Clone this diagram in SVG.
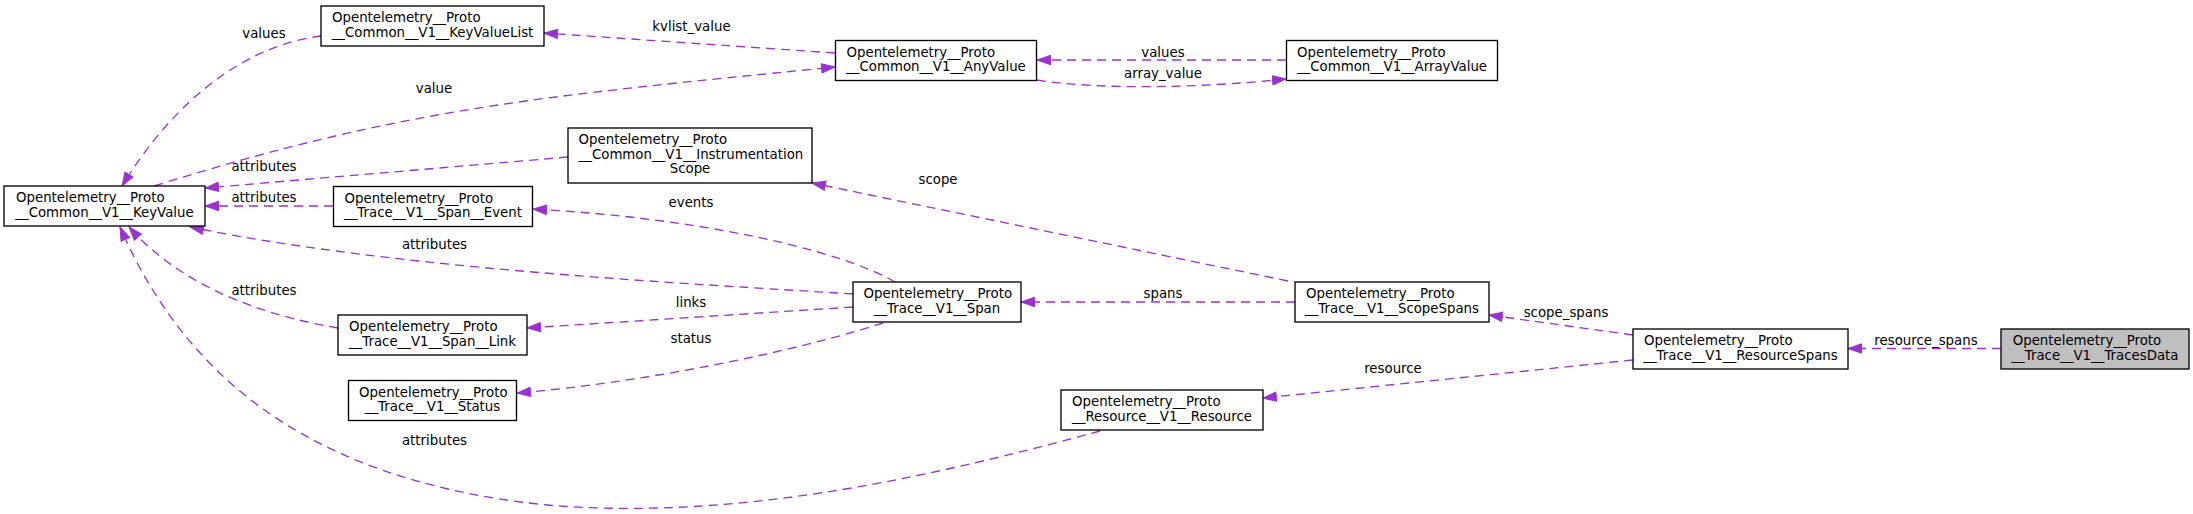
<svg xmlns="http://www.w3.org/2000/svg" width="2193" height="514" viewBox="0 0 2193 514">
<style>
  .node rect { fill: #ffffff; stroke: #000000; stroke-width: 1.33; }
  .node.root rect { fill: #bfbfbf; }
  text { font-family: "DejaVu Sans", "Liberation Sans", sans-serif; font-size: 13.33px; fill: #000000; }
  .c { text-anchor: middle; }
  .edge { fill: none; stroke: #9a32cd; stroke-width: 1.33; stroke-dasharray: 9,6; marker-end: url(#arr); }
</style>
<defs>
  <marker id="arr" markerUnits="userSpaceOnUse" markerWidth="16" markerHeight="12" refX="14" refY="6" orient="auto" viewBox="0 0 16 12">
    <path d="M0.5,1.3 L14,6 L0.5,10.7 Z" fill="#9a32cd" stroke="#9a32cd" stroke-width="1" stroke-dasharray="none"/>
  </marker>
</defs>
<rect width="2193" height="514" fill="#ffffff"/>

<g id="connectors">
  <path class="edge" d="M2001,348.5 L1848,348.5"/>
  <path class="edge" d="M1633,335 L1489,315"/>
  <path class="edge" d="M1633,360 L1263,398"/>
  <path class="edge" d="M1295,302 L1021,302"/>
  <path class="edge" d="M1288,281 L812,183"/>
  <path class="edge" d="M895,282 C840,250 700,218 533,209"/>
  <path class="edge" d="M853,294 C700,284 400,270 190,227"/>
  <path class="edge" d="M853,307 L527,328"/>
  <path class="edge" d="M883,323 C800,350 650,382 517,393"/>
  <path class="edge" d="M1100,431 C950,471.5 747,522 547,505 C297,480 180,365 120,227"/>
  <path class="edge" d="M338,328 C260,315 180,285 129,227"/>
  <path class="edge" d="M568,157 L205,188"/>
  <path class="edge" d="M333,206 L205,206"/>
  <path class="edge" d="M835,53 L544,33"/>
  <path class="edge" d="M154,186 C404,108 535,97 835,67"/>
  <path class="edge" d="M321,36 C270,42 190,75 122,186"/>
  <path class="edge" d="M1037,80 C1100,90 1200,88 1286,79"/>
  <path class="edge" d="M1286,60 L1037,60"/>

  <text class="c" x="1926" y="345">resource_spans</text>
  <text class="c" x="1566" y="317">scope_spans</text>
  <text class="c" x="1393" y="372.5">resource</text>
  <text class="c" x="1163" y="298">spans</text>
  <text class="c" x="938" y="183.5">scope</text>
  <text class="c" x="691" y="206.5">events</text>
  <text class="c" x="434.5" y="249">attributes</text>
  <text class="c" x="691" y="306.5">links</text>
  <text class="c" x="691" y="343">status</text>
  <text class="c" x="434.5" y="445">attributes</text>
  <text class="c" x="264" y="295">attributes</text>
  <text class="c" x="264" y="170.7">attributes</text>
  <text class="c" x="264" y="201.7">attributes</text>
  <text class="c" x="691.5" y="30.5">kvlist_value</text>
  <text class="c" x="434" y="93.3">value</text>
  <text class="c" x="264" y="37.7">values</text>
  <text class="c" x="1163" y="77.7">array_value</text>
  <text class="c" x="1163" y="57.3">values</text>
</g>

<g id="node-KeyValue" class="node">
  <rect x="4" y="186" width="201" height="40"/>
  <text x="16" y="202.3">Opentelemetry__Proto</text>
  <text class="c" x="104.5" y="216.8">__Common__V1__KeyValue</text>
</g>
<g id="node-KeyValueList" class="node">
  <rect x="321" y="6" width="223" height="40"/>
  <text x="332" y="22.3">Opentelemetry__Proto</text>
  <text class="c" x="432.5" y="36.8">__Common__V1__KeyValueList</text>
</g>
<g id="node-SpanEvent" class="node">
  <rect x="333.5" y="186.5" width="199" height="40"/>
  <text x="344.5" y="202.8">Opentelemetry__Proto</text>
  <text class="c" x="433" y="217.3">__Trace__V1__Span__Event</text>
</g>
<g id="node-SpanLink" class="node">
  <rect x="338" y="315" width="189" height="40"/>
  <text x="349" y="331.3">Opentelemetry__Proto</text>
  <text class="c" x="432.5" y="345.8">__Trace__V1__Span__Link</text>
</g>
<g id="node-Status" class="node">
  <rect x="348.5" y="380.5" width="168" height="40"/>
  <text x="359" y="396.8">Opentelemetry__Proto</text>
  <text class="c" x="432.5" y="411.3">__Trace__V1__Status</text>
</g>
<g id="node-InstrumentationScope" class="node">
  <rect x="568" y="128" width="244" height="55"/>
  <text x="578.6" y="144.3">Opentelemetry__Proto</text>
  <text x="578.6" y="158.8">__Common__V1__Instrumentation</text>
  <text class="c" x="690" y="173.3">Scope</text>
</g>
<g id="node-AnyValue" class="node">
  <rect x="835.5" y="40.5" width="201" height="40"/>
  <text x="846.5" y="56.8">Opentelemetry__Proto</text>
  <text class="c" x="936" y="71.3">__Common__V1__AnyValue</text>
</g>
<g id="node-Span" class="node">
  <rect x="853" y="282" width="168" height="40"/>
  <text x="863.5" y="298.3">Opentelemetry__Proto</text>
  <text class="c" x="937" y="312.8">__Trace__V1__Span</text>
</g>
<g id="node-Resource" class="node">
  <rect x="1061" y="390" width="202" height="40"/>
  <text x="1072" y="406.3">Opentelemetry__Proto</text>
  <text class="c" x="1162" y="420.8">__Resource__V1__Resource</text>
</g>
<g id="node-ArrayValue" class="node">
  <rect x="1286.5" y="40.5" width="211" height="40"/>
  <text x="1297" y="56.8">Opentelemetry__Proto</text>
  <text class="c" x="1392" y="71.3">__Common__V1__ArrayValue</text>
</g>
<g id="node-ScopeSpans" class="node">
  <rect x="1295" y="282" width="194" height="40"/>
  <text x="1306" y="298.3">Opentelemetry__Proto</text>
  <text class="c" x="1392" y="312.8">__Trace__V1__ScopeSpans</text>
</g>
<g id="node-ResourceSpans" class="node">
  <rect x="1633" y="329" width="215" height="40"/>
  <text x="1644" y="345.3">Opentelemetry__Proto</text>
  <text class="c" x="1740.5" y="359.8">__Trace__V1__ResourceSpans</text>
</g>
<g id="node-TracesData" class="node root">
  <rect x="2001" y="329" width="188" height="40"/>
  <text x="2012.7" y="345.3">Opentelemetry__Proto</text>
  <text class="c" x="2095" y="359.8">__Trace__V1__TracesData</text>
</g>
</svg>
